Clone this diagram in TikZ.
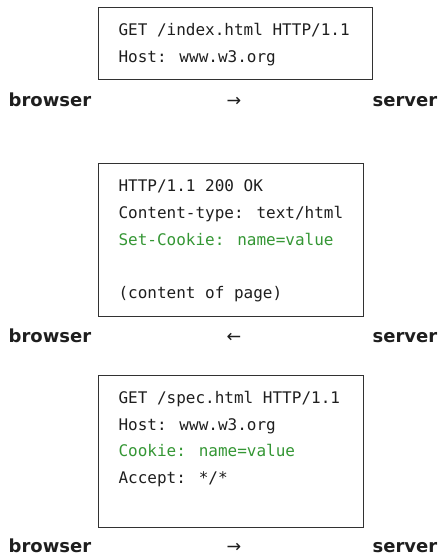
\documentclass[tikz,border=0pt]{standalone}
\usepackage{fontspec}
\newfontfamily\codefont{DejaVu Sans Mono}
\newfontfamily\labelfont{DejaVu Sans}
\definecolor{cookiegreen}{RGB}{52,150,52}
\definecolor{inkgray}{RGB}{30,30,30}
\definecolor{framegray}{RGB}{50,50,50}
\tikzset{
  msgbox/.style={draw=framegray, line width=1.1pt, rectangle, anchor=north west, inner sep=0pt},
  codeline/.style={anchor=base west, inner sep=0pt, text=inkgray, font=\codefont\fontsize{16}{16}\selectfont},
  cookieline/.style={codeline, text=cookiegreen},
  party/.style={inner sep=0pt, text=inkgray, font=\labelfont\bfseries\fontsize{18}{18}\selectfont},
  dirarrow/.style={anchor=base, inner sep=0pt, text=inkgray, font=\labelfont\fontsize{17.5}{17.5}\selectfont}
}
\begin{document}
\begin{tikzpicture}[x=1pt, y=-1pt]
  \useasboundingbox (0,0) rectangle (444,556);

  % first request: browser -> server
  \node[msgbox, minimum width=274.6pt, minimum height=71.4pt] (req1) at (97.7,7.3) {};
  \node[codeline] (req1a) at (118.3,36.0) {GET /index.html HTTP/1.1};
  \node[codeline] (req1b) at (118.3,62.7) {Host: www.w3.org};
  \node[party, anchor=base west] (br1) at (8.5,106.5) {browser};
  \node[dirarrow] (ar1) at (234,106.5) {→};
  \node[party, anchor=base east] (sv1) at (437.5,106.5) {server};

  % response setting the cookie: server -> browser
  \node[msgbox, minimum width=265pt, minimum height=152.4pt] (resp) at (97.7,163.3) {};
  \node[codeline] (resp1) at (118.3,191.9) {HTTP/1.1 200 OK};
  \node[codeline] (resp2) at (118.3,218.6) {Content-type: text/html};
  \node[cookieline] (resp3) at (118.3,245.3) {Set-Cookie: name=value};
  \node[codeline] (resp5) at (118.3,298.7) {(content of page)};
  \node[party, anchor=base west] (br2) at (8.5,342) {browser};
  \node[dirarrow] (ar2) at (234,342) {←};
  \node[party, anchor=base east] (sv2) at (437.5,342) {server};

  % second request carrying the cookie: browser -> server
  \node[msgbox, minimum width=265pt, minimum height=151.7pt] (req2) at (97.7,375) {};
  \node[codeline] (req2a) at (118.3,403.4) {GET /spec.html HTTP/1.1};
  \node[codeline] (req2b) at (118.3,430.1) {Host: www.w3.org};
  \node[cookieline] (req2c) at (118.3,456.8) {Cookie: name=value};
  \node[codeline] (req2d) at (118.3,483.5) {Accept: */*};
  \node[party, anchor=base west] (br3) at (8.5,552) {browser};
  \node[dirarrow] (ar3) at (234,552) {→};
  \node[party, anchor=base east] (sv3) at (437.5,552) {server};
\end{tikzpicture}
\end{document}
